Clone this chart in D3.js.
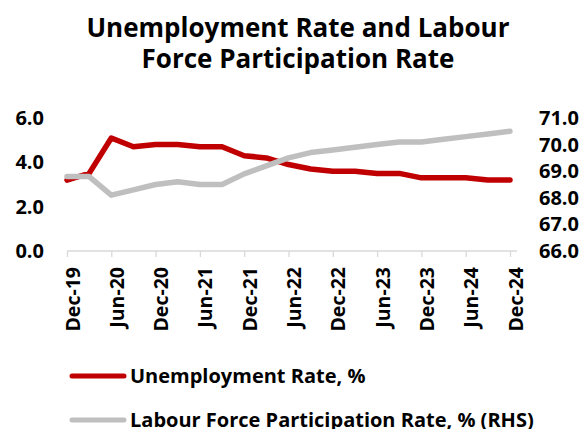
<!DOCTYPE html>
<html>
<head>
<meta charset="utf-8">
<script src="https://cdn.jsdelivr.net/npm/d3@7"></script>
<style>
  body { margin: 0; background: #fff; }
  text { font-family: "Open Sans", sans-serif; font-weight: 700; fill: #000; }
</style>
</head>
<body>
<svg id="chart"></svg>
<script>
var w = 585, h = 429;

// quarterly data, Dec-19 .. Dec-24
var quarters = ["Dec-19","Mar-20","Jun-20","Sep-20","Dec-20","Mar-21","Jun-21","Sep-21",
  "Dec-21","Mar-22","Jun-22","Sep-22","Dec-22","Mar-23","Jun-23","Sep-23",
  "Dec-23","Mar-24","Jun-24","Sep-24","Dec-24"];
var unemployment = [3.2, 3.5, 5.1, 4.7, 4.8, 4.8, 4.7, 4.7, 4.3, 4.2, 3.9, 3.7,
  3.6, 3.6, 3.5, 3.5, 3.3, 3.3, 3.3, 3.2, 3.2];
var participation = [68.8, 68.8, 68.1, 68.3, 68.5, 68.6, 68.5, 68.5, 68.9, 69.2, 69.5, 69.7,
  69.8, 69.9, 70.0, 70.1, 70.1, 70.2, 70.3, 70.4, 70.5];
var tickLabels = ["Dec-19","Jun-20","Dec-20","Jun-21","Dec-21","Jun-22","Dec-22",
  "Jun-23","Dec-23","Jun-24","Dec-24"];
var leftTicks = [0, 2, 4, 6];
var rightTicks = [66, 67, 68, 69, 70, 71];

var svg = d3.select('#chart')
  .attr('width', w)
  .attr('height', h);

// Title
var title = svg.append('text')
  .attr('text-anchor', 'middle')
  .style('font-size', '26px');
title.append('tspan').attr('x', 298).attr('y', 37).text('Unemployment Rate and Labour');
title.append('tspan').attr('x', 298).attr('y', 68).text('Force Participation Rate');

var x = d3.scalePoint()
  .domain(quarters)
  .range([67, 510]);

var yLeft = d3.scaleLinear().domain([0, 6]).range([251, 118]);
var yRight = d3.scaleLinear().domain([66, 71]).range([251, 118]);

// x axis
var xAxis = svg.append('g')
  .attr('transform', 'translate(0,251)')
  .call(d3.axisBottom(x).tickValues(tickLabels).tickSize(6).tickSizeOuter(0));
xAxis.select('.domain').remove();
xAxis.append('line')
  .attr('x1', 67).attr('x2', 517)
  .attr('stroke', '#d9d9d9').attr('stroke-width', 1.3);
xAxis.selectAll('.tick line').attr('stroke', '#d9d9d9').attr('stroke-width', 1.3);
xAxis.selectAll('.tick text')
  .attr('text-anchor', 'end')
  .attr('x', -16)
  .attr('y', 0)
  .attr('dy', '0.36em')
  .attr('transform', 'translate(5,0) rotate(-90)')
  .style('font-size', '19.5px')
  .style('font-family', '"Open Sans", sans-serif')
  .attr('fill', '#000');

// left axis
var leftAxis = svg.append('g')
  .attr('transform', 'translate(44,0)')
  .call(d3.axisLeft(yLeft).tickValues(leftTicks).tickSize(0).tickFormat(d3.format('.1f')));
leftAxis.select('.domain').remove();
leftAxis.selectAll('text')
  .attr('x', 0)
  .style('font-size', '20px')
  .style('font-family', '"Open Sans", sans-serif')
  .attr('fill', '#000');

// right axis
var rightAxis = svg.append('g')
  .attr('transform', 'translate(539,0)')
  .call(d3.axisRight(yRight).tickValues(rightTicks).tickSize(0).tickFormat(d3.format('.1f')));
rightAxis.select('.domain').remove();
rightAxis.selectAll('text')
  .attr('x', 0)
  .style('font-size', '20px')
  .style('font-family', '"Open Sans", sans-serif')
  .attr('fill', '#000');

// lines
var lineLeft = d3.line()
  .x(function(d, i){ return x(quarters[i]); })
  .y(function(d){ return yLeft(d); });
var lineRight = d3.line()
  .x(function(d, i){ return x(quarters[i]); })
  .y(function(d){ return yRight(d); });

svg.append('path')
  .datum(unemployment)
  .attr('d', lineLeft)
  .attr('fill', 'none')
  .attr('stroke', '#c00000')
  .attr('stroke-width', 5.5)
  .attr('stroke-linejoin', 'round')
  .attr('stroke-linecap', 'round');

svg.append('path')
  .datum(participation)
  .attr('d', lineRight)
  .attr('fill', 'none')
  .attr('stroke', '#bfbfbf')
  .attr('stroke-width', 5.5)
  .attr('stroke-linejoin', 'round')
  .attr('stroke-linecap', 'round');

// legend
var legend = [
  {name: 'Unemployment Rate, %', color: '#c00000', y: 376},
  {name: 'Labour Force Participation Rate, % (RHS)', color: '#bfbfbf', y: 420}
];
var lg = svg.selectAll('.legend')
  .data(legend)
  .enter()
  .append('g')
  .attr('class', 'legend');
lg.append('line')
  .attr('x1', 72).attr('x2', 124)
  .attr('y1', function(d){ return d.y; })
  .attr('y2', function(d){ return d.y; })
  .attr('stroke', function(d){ return d.color; })
  .attr('stroke-width', 5)
  .attr('stroke-linecap', 'round');
lg.append('text')
  .attr('x', 130)
  .attr('y', function(d){ return d.y; })
  .attr('dy', '0.35em')
  .style('font-size', '20px')
  .text(function(d){ return d.name; });
</script>
</body>
</html>
